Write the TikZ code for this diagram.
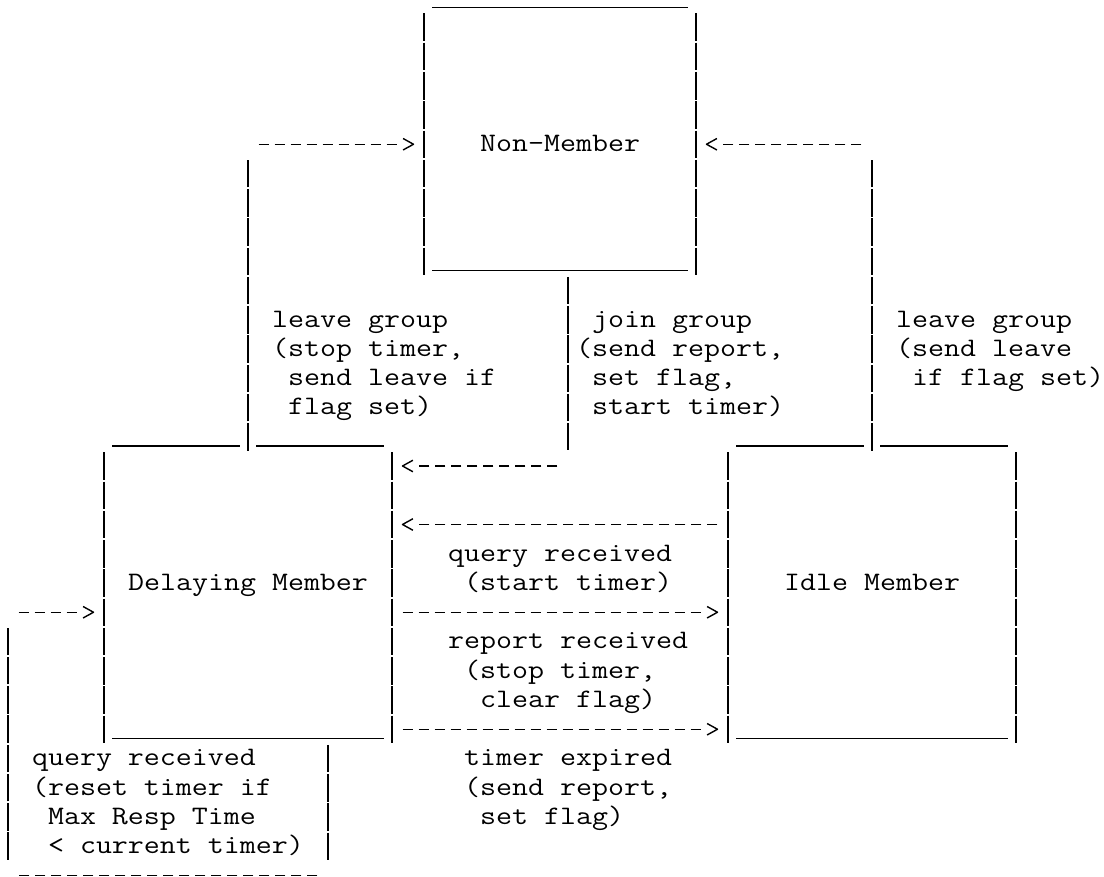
\documentclass[tikz,border=0pt]{standalone}
\usepackage{fontspec}
\usepackage{graphicx}
\usetikzlibrary{calc}
\newlength\chw
\newcommand\ttf{\ttfamily\fontsize{20pt}{24pt}\selectfont}
\newcommand\tx[1]{\scalebox{\xf}[1]{#1}}
\AtBeginDocument{\settowidth\chw{\ttf M}\pgfmathsetmacro\xf{12pt/\chw}}
\pgfdeclarearrow{
  name = ascii,
  setup code = {
    \pgfarrowssettipend{0pt}
    \pgfarrowssetbackend{-7.8pt}
    \pgfarrowssetlineend{-12.15pt}
    \pgfarrowssetvisualbackend{-7.8pt}
  },
  drawing code = {
    \pgfsetdash{}{0pt}
    \pgfsetlinewidth{1.05pt}
    \pgfsetroundjoin
    \pgfpathmoveto{\pgfqpoint{-7.8pt}{4.3pt}}
    \pgfpathlineto{\pgfqpoint{0pt}{0pt}}
    \pgfpathlineto{\pgfqpoint{-7.8pt}{-4.3pt}}
    \pgfusepathqstroke
  }
}
\tikzset{
  lw/.style={line width=1.05pt},
  stateframe/.style={draw=none, inner sep=0pt, outer sep=0pt, rectangle},
  underline/.style={lw, line cap=butt},
  pipeline/.style={lw, dash pattern=on 20.625pt off 1.3125pt},
  dashline/.style={lw, dash pattern=on 7.95pt off 4.05pt},
  dasharrow/.style={dashline, -ascii},
  txt/.style={inner sep=0pt, outer sep=0pt, anchor=base west, font=\ttf},
  statetxt/.style={txt, anchor=base},
}
\begin{document}
\begin{tikzpicture}[x=12pt,y=-21.9375pt]
\useasboundingbox (0,0.06838) rectangle (69,30.0513);

% state frames
\node[stateframe, minimum width=204pt, minimum height=200.728pt] (nm) at (35,4.895) {};
\node[stateframe, minimum width=216pt, minimum height=222.656pt] (dm) at (15.5,20.395) {};
\node[stateframe, minimum width=216pt, minimum height=222.656pt] (idle) at (54.5,20.395) {};

% state labels
\node[statetxt] (nmtext) at (35,5.256) {\tx{Non-Member}};
\node[statetxt] (dmtext) at (15.5,20.256) {\tx{Delaying Member}};
\node[statetxt] (idletext) at (54.5,20.256) {\tx{Idle Member}};

% junction coordinates
\coordinate (A) at (15.5,5);
\coordinate (B) at (35.5,16);
\coordinate (C) at (54.5,5);
\coordinate (r18) at (0,18);
\coordinate (r21) at (0,21);
\coordinate (r25) at (0,25);
\coordinate (L1) at (20.5,30);
\coordinate (L2) at (0.5,30);
\coordinate (L3) at (0.5,21);

% Non-Member box
\draw[underline] ($(nm.north west)+(6pt,0pt)$) -- ($(nm.north east)+(-6pt,0pt)$);
\draw[underline] ($(nm.south west)+(6pt,3.29pt)$) -- ($(nm.south east)+(-6pt,3.29pt)$);
\draw[pipeline] ($(nm.north west)+(0pt,-4.607pt)$) -- (nm.south west);
\draw[pipeline] ($(nm.north east)+(0pt,-4.607pt)$) -- (nm.south east);

% Delaying Member box
\draw[underline] ($(dm.north west)+(6pt,0pt)$) -- ($(dm.north -| A)+(-6pt,0pt)$);
\draw[underline] ($(dm.north -| A)+(6pt,0pt)$) -- ($(dm.north east)+(-6pt,0pt)$);
\draw[underline] ($(dm.south west)+(6pt,3.29pt)$) -- ($(dm.south east)+(-6pt,3.29pt)$);
\draw[pipeline] ($(dm.north west)+(0pt,-4.607pt)$) -- (dm.south west);
\draw[pipeline] ($(dm.north east)+(0pt,-4.607pt)$) -- (dm.south east);

% Idle Member box
\draw[underline] ($(idle.north west)+(6pt,0pt)$) -- ($(idle.north -| C)+(-6pt,0pt)$);
\draw[underline] ($(idle.north -| C)+(6pt,0pt)$) -- ($(idle.north east)+(-6pt,0pt)$);
\draw[underline] ($(idle.south west)+(6pt,3.29pt)$) -- ($(idle.south east)+(-6pt,3.29pt)$);
\draw[pipeline] ($(idle.north west)+(0pt,-4.607pt)$) -- (idle.south west);
\draw[pipeline] ($(idle.north east)+(0pt,-4.607pt)$) -- (idle.south east);

% Delaying -> Non-Member (leave group)
\draw[pipeline, shorten <=-3.29pt, shorten >=11.63pt] (dm.north -| A) -- (A);
\draw[dasharrow, shorten <=8.03pt, shorten >=7.875pt] (A) -- (nm.west |- A);
% Non-Member -> Delaying (join group)
\draw[pipeline, shorten <=1.32pt, shorten >=11.63pt] (nm.south -| B) -- (B);
\draw[dasharrow, shorten <=8.03pt, shorten >=7.875pt] (B) -- (dm.east |- B);
% Idle -> Non-Member (leave group)
\draw[pipeline, shorten <=-3.29pt, shorten >=11.63pt] (idle.north -| C) -- (C);
\draw[dasharrow, shorten <=8.03pt, shorten >=7.875pt] (C) -- (nm.east |- C);
% Idle -> Delaying (query received)
\draw[dasharrow, shorten <=8.03pt, shorten >=7.875pt] (idle.west |- r18) -- (dm.east |- r18);
% Delaying -> Idle (report received)
\draw[dasharrow, shorten <=8.03pt, shorten >=7.875pt] (dm.east |- r21) -- (idle.west |- r21);
% Delaying -> Idle (timer expired)
\draw[dasharrow, shorten <=8.03pt, shorten >=7.875pt] (dm.east |- r25) -- (idle.west |- r25);
% Delaying self loop (query received)
\draw[pipeline, shorten <=1.32pt, shorten >=11.63pt] (dm.south -| L1) -- (L1);
\draw[dashline, shorten <=8.03pt, shorten >=8.03pt] (L1) -- (L2);
\draw[pipeline, shorten <=11.63pt, shorten >=11.63pt] (L2) -- (L3);
\draw[dasharrow, shorten <=8.03pt, shorten >=7.875pt] (L3) -- (dm.west |- L3);

% transition labels
\node[txt] (la1) at (17,11.256) {\tx{leave group}};
\node[txt] (la2) at (17,12.256) {\tx{(stop timer,}};
\node[txt] (la3) at (18,13.256) {\tx{send leave if}};
\node[txt] (la4) at (18,14.256) {\tx{flag set)}};
\node[txt] (lb1) at (37,11.256) {\tx{join group}};
\node[txt] (lb2) at (36,12.256) {\tx{(send report,}};
\node[txt] (lb3) at (37,13.256) {\tx{set flag,}};
\node[txt] (lb4) at (37,14.256) {\tx{start timer)}};
\node[txt] (lc1) at (56,11.256) {\tx{leave group}};
\node[txt] (lc2) at (56,12.256) {\tx{(send leave}};
\node[txt] (lc3) at (57,13.256) {\tx{if flag set)}};
\node[txt] (ld1) at (28,19.256) {\tx{query received}};
\node[txt] (ld2) at (29,20.256) {\tx{(start timer)}};
\node[txt] (le1) at (28,22.256) {\tx{report received}};
\node[txt] (le2) at (29,23.256) {\tx{(stop timer,}};
\node[txt] (le3) at (30,24.256) {\tx{clear flag)}};
\node[txt] (lf1) at (29,26.256) {\tx{timer expired}};
\node[txt] (lf2) at (29,27.256) {\tx{(send report,}};
\node[txt] (lf3) at (30,28.256) {\tx{set flag)}};
\node[txt] (lg1) at (2,26.256) {\tx{query received}};
\node[txt] (lg2) at (2,27.256) {\tx{(reset timer if}};
\node[txt] (lg3) at (3,28.256) {\tx{Max Resp Time}};
\node[txt] (lg4) at (3,29.256) {\tx{< current timer)}};
\end{tikzpicture}
\end{document}
